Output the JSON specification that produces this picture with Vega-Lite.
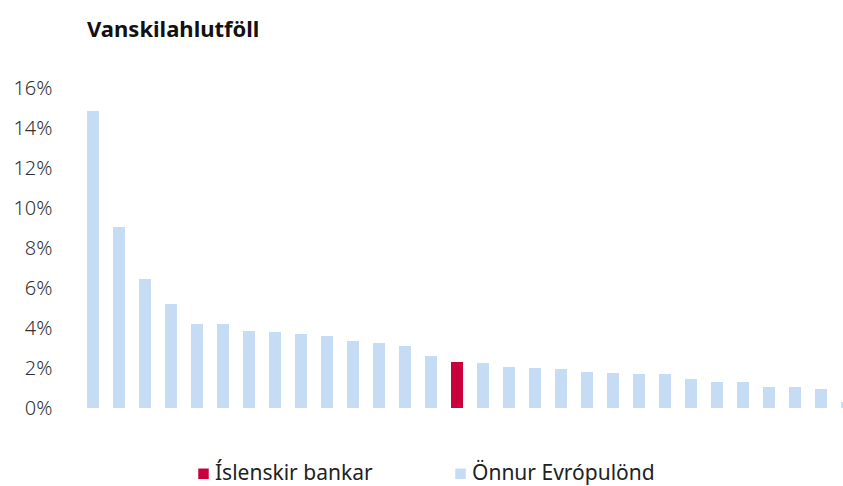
{
  "$schema": "https://vega.github.io/schema/vega-lite/v6.json",
  "autosize": "none",
  "width": 780,
  "height": 320,
  "padding": {"left": 80, "top": 88, "right": 0, "bottom": 78},
  "background": "white",
  "config": {"view": {"stroke": null}},
  "title": {
    "text": "Vanskilahlutföll",
    "anchor": "start",
    "frame": "group",
    "font": "Noto Sans",
    "fontSize": 22,
    "fontWeight": "bold",
    "color": "#111111",
    "baseline": "alphabetic",
    "offset": 19,
    "dx": 7
  },
  "data": {
    "values": [
      {"i": 1, "hopur": "Önnur Evrópulönd", "hlutfall": 14.85},
      {"i": 2, "hopur": "Önnur Evrópulönd", "hlutfall": 9.05},
      {"i": 3, "hopur": "Önnur Evrópulönd", "hlutfall": 6.45},
      {"i": 4, "hopur": "Önnur Evrópulönd", "hlutfall": 5.2},
      {"i": 5, "hopur": "Önnur Evrópulönd", "hlutfall": 4.2},
      {"i": 6, "hopur": "Önnur Evrópulönd", "hlutfall": 4.2},
      {"i": 7, "hopur": "Önnur Evrópulönd", "hlutfall": 3.85},
      {"i": 8, "hopur": "Önnur Evrópulönd", "hlutfall": 3.8},
      {"i": 9, "hopur": "Önnur Evrópulönd", "hlutfall": 3.7},
      {"i": 10, "hopur": "Önnur Evrópulönd", "hlutfall": 3.6},
      {"i": 11, "hopur": "Önnur Evrópulönd", "hlutfall": 3.35},
      {"i": 12, "hopur": "Önnur Evrópulönd", "hlutfall": 3.25},
      {"i": 13, "hopur": "Önnur Evrópulönd", "hlutfall": 3.1},
      {"i": 14, "hopur": "Önnur Evrópulönd", "hlutfall": 2.6},
      {"i": 15, "hopur": "Íslenskir bankar", "hlutfall": 2.3},
      {"i": 16, "hopur": "Önnur Evrópulönd", "hlutfall": 2.25},
      {"i": 17, "hopur": "Önnur Evrópulönd", "hlutfall": 2.05},
      {"i": 18, "hopur": "Önnur Evrópulönd", "hlutfall": 2.0},
      {"i": 19, "hopur": "Önnur Evrópulönd", "hlutfall": 1.95},
      {"i": 20, "hopur": "Önnur Evrópulönd", "hlutfall": 1.8},
      {"i": 21, "hopur": "Önnur Evrópulönd", "hlutfall": 1.75},
      {"i": 22, "hopur": "Önnur Evrópulönd", "hlutfall": 1.7},
      {"i": 23, "hopur": "Önnur Evrópulönd", "hlutfall": 1.7},
      {"i": 24, "hopur": "Önnur Evrópulönd", "hlutfall": 1.45},
      {"i": 25, "hopur": "Önnur Evrópulönd", "hlutfall": 1.3},
      {"i": 26, "hopur": "Önnur Evrópulönd", "hlutfall": 1.3},
      {"i": 27, "hopur": "Önnur Evrópulönd", "hlutfall": 1.05},
      {"i": 28, "hopur": "Önnur Evrópulönd", "hlutfall": 1.05},
      {"i": 29, "hopur": "Önnur Evrópulönd", "hlutfall": 0.95},
      {"i": 30, "hopur": "Önnur Evrópulönd", "hlutfall": 0.3}
    ]
  },
  "mark": {"type": "bar"},
  "encoding": {
    "x": {
      "field": "i",
      "type": "ordinal",
      "sort": "ascending",
      "axis": null,
      "scale": {"paddingInner": 0.54, "paddingOuter": 0.27}
    },
    "y": {
      "field": "hlutfall",
      "type": "quantitative",
      "scale": {"domain": [0, 16], "nice": false},
      "axis": {
        "title": null,
        "values": [0, 2, 4, 6, 8, 10, 12, 14, 16],
        "labelExpr": "datum.value + '%'",
        "grid": false,
        "domain": false,
        "ticks": false,
        "labelPadding": 28,
        "labelFont": "Noto Sans",
        "labelFontSize": 20,
        "labelFontWeight": 300,
        "labelColor": "#333333"
      }
    },
    "color": {
      "field": "hopur",
      "type": "nominal",
      "scale": {
        "domain": ["Íslenskir bankar", "Önnur Evrópulönd"],
        "range": ["#c8003c", "#c6dcf5"]
      },
      "legend": {
        "title": null,
        "orient": "none",
        "direction": "horizontal",
        "legendX": 113,
        "legendY": 375,
        "symbolType": "square",
        "symbolSize": 110,
        "symbolStrokeWidth": 0,
        "labelFont": "Noto Sans",
        "labelFontSize": 21,
        "labelColor": "#222222",
        "labelOffset": 1,
        "labelLimit": 400,
        "columnPadding": 77,
        "padding": 0
      }
    }
  }
}
